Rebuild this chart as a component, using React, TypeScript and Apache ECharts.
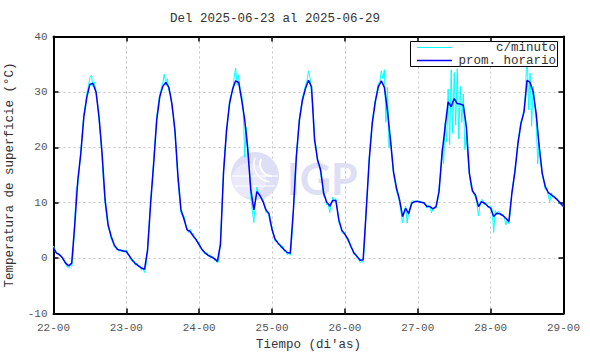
import React, { useEffect, useRef } from "react";
import * as echarts from "echarts";

const chartTitle = "Del 2025-06-23 al 2025-06-29";
const xLabels = ["22-00", "23-00", "24-00", "25-00", "26-00", "27-00", "28-00", "29-00"];
const yName = "Temperatura de superficie (°C)";
const xName = "Tiempo (di'as)";

// Hourly averages (prom. horario), one value per hour starting 22-00
const hourlyD22 = [1.8, 0.9, 0.6, 0, -0.9, -1.4, -0.9, 6, 14, 18.9, 25.5, 29.1, 31.4, 31.5, 30, 25.5, 18.9, 10.5, 6, 3.9, 2.4, 1.6, 1.4, 1.3];
const hourlyD23 = [1.2, 0.4, -0.4, -1.0, -1.4, -1.8, -2.0, 1.5, 9.9, 17.1, 24.9, 29.1, 31, 31.7, 30.8, 27.9, 23.1, 14.7, 8.7, 7, 5.1, 4.8, 4.0, 3.3];
const hourlyD24 = [2.4, 1.5, 0.9, 0.5, 0.2, -0.1, -0.6, 2.5, 15.3, 23.1, 27.9, 30.5, 32, 31.7, 28.5, 24.9, 19.5, 12.3, 8.7, 12, 11.3, 10.2, 8.7, 8.0];
const hourlyD25 = [5.1, 3.4, 2.7, 2.1, 1.5, 1.0, 0.9, 8.5, 18.3, 24.9, 28.5, 30.6, 32.1, 30.9, 21.3, 17.7, 15.9, 11.7, 10.1, 9.4, 10.4, 10.4, 6.9, 5.0];
const hourlyD26 = [4.3, 3.4, 2.1, 0.9, 0.3, -0.4, -0.3, 8.4, 17.7, 24.3, 28.2, 30.9, 32, 30.8, 26.7, 21.3, 15.6, 12.6, 10.5, 7.5, 9, 8, 9.9, 10.2];
const hourlyD27 = [10.2, 10.1, 10, 9.3, 9.3, 8.9, 9.3, 12, 18.9, 23.7, 28.2, 27.3, 28.8, 27.9, 27.8, 27.6, 23.7, 15.3, 12.1, 11.4, 9.3, 10.2, 9.9, 9.4];
const hourlyD28 = [9.0, 7.5, 8.1, 8.0, 7.7, 7.2, 6.6, 11.7, 15.6, 20.7, 24.3, 26.4, 32.1, 31.7, 30, 26.1, 20.1, 15.3, 12.9, 11.8, 11.4, 11, 10.5, 9.9];
const hourlyEnd = [9.3];

// Per-minute readings (c/minuto), sampled every 30 minutes
const minuteD22 = [2.2, 1.2, 0.8, 0.9, 0.4, 0.5, -0.2, -0.6, -1.1, -1.6, -1.8, -1.2, -1.5, 1.0, 6.8, 12.6, 13.2, 16.0, 19.5, 22.8, 26.0, 27.8, 29.8, 31.0, 32.6, 33.0, 31.0, 31.8, 30.2, 28.0, 24.8, 22.0, 18.0, 13.5, 9.8, 7.5, 5.4, 4.9, 3.4, 3.0, 2.0, 1.9, 1.8, 1.2, 1.6, 1.1, 1.5, 1.0];
const minuteD23 = [1.5, 0.6, 0.3, -0.3, -0.6, -0.5, -1.3, -0.9, -1.6, -1.4, -2.2, -1.9, -2.6, -1.2, 2.0, 6.0, 10.5, 13.8, 17.6, 21.5, 25.5, 27.8, 29.5, 30.6, 31.6, 33.2, 31.2, 32.4, 30.2, 29.8, 27.2, 25.5, 22.5, 18.8, 14.0, 10.9, 8.0, 7.8, 7.6, 6.2, 5.4, 4.6, 5.2, 4.2, 4.5, 3.6, 3.5, 2.8];
const minuteD24 = [2.9, 1.8, 1.3, 1.1, 0.7, 1.0, 0.3, 0.6, 0.0, 0.3, -0.4, -0.2, -0.9, -0.4, 3.2, 9.0, 15.8, 19.8, 22.5, 25.6, 28.6, 29.5, 30.0, 32.6, 34.3, 31.2, 33.0, 30.4, 29.5, 26.8, 18.2, 23.6, 20.5, 16.4, 11.0, 8.6, 6.4, 10.0, 12.8, 11.8, 11.0, 10.9, 10.6, 9.4, 8.2, 8.5, 7.4, 6.0];
const minuteD25 = [5.6, 4.0, 3.0, 3.1, 2.4, 2.5, 1.8, 2.2, 1.2, 1.4, 0.6, 1.1, 0.5, 3.5, 8.0, 13.8, 18.8, 22.0, 25.3, 27.0, 29.0, 30.0, 31.2, 32.0, 33.8, 32.5, 29.6, 27.0, 21.8, 20.0, 17.2, 16.8, 15.2, 13.5, 11.2, 10.8, 9.6, 9.9, 8.2, 9.8, 11.0, 10.3, 10.8, 9.0, 6.4, 5.8, 4.6, 4.4];
const minuteD26 = [4.6, 3.8, 3.0, 2.6, 1.8, 1.5, 0.6, 0.8, 0.0, -0.2, -0.8, -0.6, -0.7, 3.0, 9.0, 13.2, 18.2, 21.6, 24.8, 26.8, 28.6, 30.0, 31.6, 31.8, 33.8, 32.4, 34.0, 24.5, 30.8, 20.0, 22.0, 18.2, 15.0, 13.6, 12.0, 11.2, 10.0, 8.2, 6.4, 8.4, 9.4, 6.3, 8.4, 9.2, 10.2, 10.4, 10.0, 10.3];
const minuteD27 = [10.4, 10.2, 10.2, 10.0, 9.8, 9.6, 9.0, 9.6, 9.2, 8.2, 8.8, 9.2, 9.0, 10.0, 12.6, 15.5, 19.8, 17.0, 24.5, 21.0, 30.5, 20.5, 34.0, 22.5, 33.5, 24.0, 34.2, 21.5, 31.0, 24.5, 29.6, 19.6, 22.0, 18.0, 15.0, 13.0, 12.5, 11.5, 11.0, 9.8, 7.6, 9.6, 10.6, 10.4, 9.6, 10.0, 9.2, 9.2];
const minuteD28 = [9.4, 8.8, 4.6, 8.6, 7.8, 8.4, 8.2, 7.6, 7.9, 7.4, 6.0, 7.0, 6.2, 8.4, 12.2, 14.0, 16.0, 18.2, 21.2, 23.0, 24.8, 25.5, 27.0, 30.0, 38.2, 26.8, 33.4, 23.8, 31.0, 28.0, 25.0, 17.0, 20.8, 17.2, 15.0, 13.8, 12.4, 12.6, 11.2, 10.2, 11.8, 11.0, 11.2, 10.6, 10.8, 10.0, 9.8, 9.5];
const minuteEnd = [9.2];

const MONO = "'Liberation Mono', 'DejaVu Sans Mono', monospace";

export default function App() {
  const ref = useRef<HTMLDivElement>(null);

  useEffect(() => {
    document.body.style.margin = "0";
    if (!ref.current) return;
    const chart = echarts.init(ref.current, undefined, { renderer: "svg" });

    const hourly = [
      ...hourlyD22, ...hourlyD23, ...hourlyD24, ...hourlyD25,
      ...hourlyD26, ...hourlyD27, ...hourlyD28, ...hourlyEnd,
    ].map((v, i) => [i, v]);
    const minute = [
      ...minuteD22, ...minuteD23, ...minuteD24, ...minuteD25,
      ...minuteD26, ...minuteD27, ...minuteD28, ...minuteEnd,
    ].map((v, i) => [i * 0.5, v]);

    const axisLine = { show: true, onZero: false, lineStyle: { color: "#000", width: 2 } };
    const axisTick = { show: true, inside: true, length: 5, lineStyle: { color: "#000", width: 1.5 } };
    const splitLine = { show: true, lineStyle: { color: "#c4c4c4", type: [2, 3], width: 1 } };
    const logoColor = "#dedef5";

    chart.setOption({
      animation: false,
      backgroundColor: "#fff",
      title: {
        text: chartTitle,
        left: 170,
        top: 12,
        padding: 0,
        textStyle: { fontFamily: MONO, fontSize: 12.5, fontWeight: "normal", color: "#333" },
      },
      grid: {
        left: 53.5,
        right: 26.5,
        top: 36.5,
        bottom: 40.5,
        containLabel: false,
        outerBoundsMode: "none",
      },
      xAxis: [
        {
          type: "value",
          min: 0,
          max: 168,
          interval: 24,
          position: "bottom",
          axisLine,
          axisTick,
          splitLine,
          axisLabel: {
            formatter: (v: number) => xLabels[Math.round(v / 24)] ?? "",
            fontFamily: MONO,
            fontSize: 11,
            color: "#555",
            margin: 9,
          },
          name: xName,
          nameLocation: "middle",
          nameGap: 25,
          nameTextStyle: { fontFamily: MONO, fontSize: 12.5, color: "#333" },
        },
        {
          type: "value",
          min: 0,
          max: 168,
          interval: 24,
          position: "top",
          axisLine,
          axisTick,
          splitLine: { show: false },
          axisLabel: { show: false },
        },
      ],
      yAxis: [
        {
          type: "value",
          min: -10,
          max: 40,
          interval: 10,
          position: "left",
          axisLine,
          axisTick,
          splitLine,
          axisLabel: { fontFamily: MONO, fontSize: 11, color: "#555", margin: 6 },
          name: yName,
          nameLocation: "middle",
          nameGap: 33,
          nameTextStyle: { fontFamily: MONO, fontSize: 12.5, color: "#333" },
        },
        {
          type: "value",
          min: -10,
          max: 40,
          interval: 10,
          position: "right",
          axisLine,
          axisTick,
          splitLine: { show: false },
          axisLabel: { show: false },
        },
      ],
      graphic: [
        // IGP watermark
        { type: "circle", z: 1, silent: true, shape: { cx: 255, cy: 176, r: 24 }, style: { fill: logoColor } },
        { type: "circle", z: 1, silent: true, shape: { cx: 249, cy: 180, r: 17 }, style: { fill: "#e9e9f9" } },
        { type: "arc", z: 1, silent: true, shape: { cx: 272, cy: 164, r: 12, startAngle: 1.6, endAngle: 3.6 }, style: { stroke: "#fff", lineWidth: 2, fill: "none" } },
        { type: "arc", z: 1, silent: true, shape: { cx: 272, cy: 164, r: 18, startAngle: 1.7, endAngle: 3.5 }, style: { stroke: "#fff", lineWidth: 1.5, fill: "none" } },
        { type: "line", z: 1, silent: true, shape: { x1: 232, y1: 176, x2: 278, y2: 176 }, style: { stroke: "#fff", lineWidth: 1 } },
        { type: "line", z: 1, silent: true, shape: { x1: 235, y1: 186, x2: 275, y2: 186 }, style: { stroke: "#fff", lineWidth: 1 } },
        {
          type: "text", z: 1, silent: true, x: 287, y: 178,
          style: { text: "IGP", font: "bold 43px Lato, 'DejaVu Sans', sans-serif", fill: logoColor, verticalAlign: "middle" },
        },
        // Legend
        { type: "rect", z: 100, shape: { x: 410.5, y: 41.5, width: 147, height: 25 }, style: { fill: "#fff", stroke: "#000", lineWidth: 1 } },
        { type: "line", z: 101, shape: { x1: 417, y1: 47.5, x2: 452, y2: 47.5 }, style: { stroke: "#00ffff", lineWidth: 1 } },
        { type: "line", z: 101, shape: { x1: 417, y1: 60.5, x2: 452, y2: 60.5 }, style: { stroke: "#0000ff", lineWidth: 1.5 } },
        {
          type: "text", z: 101, x: 556, y: 48,
          style: { text: "c/minuto", font: `12.5px ${MONO}`, fill: "#333", align: "right", verticalAlign: "middle" },
        },
        {
          type: "text", z: 101, x: 556, y: 61,
          style: { text: "prom. horario", font: `12.5px ${MONO}`, fill: "#333", align: "right", verticalAlign: "middle" },
        },
      ],
      series: [
        {
          name: "c/minuto",
          type: "line",
          data: minute,
          showSymbol: false,
          symbol: "none",
          lineStyle: { color: "#00ffff", width: 1 },
          z: 3,
        },
        {
          name: "prom. horario",
          type: "line",
          data: hourly,
          showSymbol: false,
          symbol: "none",
          lineStyle: { color: "#0000ff", width: 1.5 },
          z: 4,
        },
      ],
    });

    return () => chart.dispose();
  }, []);

  return <div ref={ref} style={{ width: 590, height: 354 }} />;
}
